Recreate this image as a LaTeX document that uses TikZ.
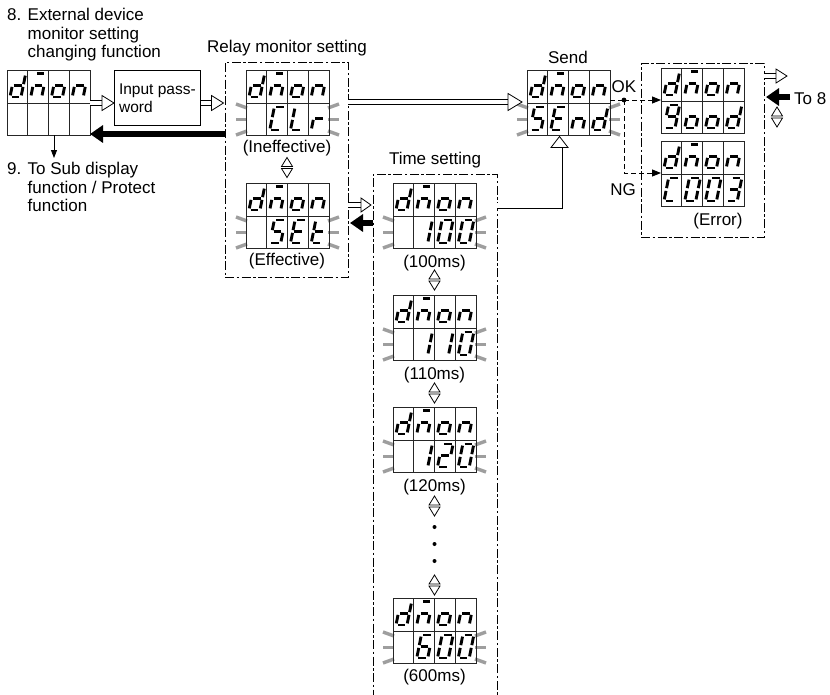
\documentclass[tikz,border=0pt]{standalone}
\usepackage{fontspec}
\setmainfont{Liberation Sans}
\usetikzlibrary{arrows.meta,calc}

\newcommand\segpt[2]{({3+11*(#1)+4.6*(1-(#2))},{4+23*(#2)})}
\def\mySega{\draw[seg] \segpt{0.16}{0} -- \segpt{0.86}{0};}
\def\mySegb{\draw[seg] \segpt{1}{0.07} -- \segpt{1}{0.44};}
\def\mySegc{\draw[seg] \segpt{1}{0.56} -- \segpt{1}{0.93};}
\def\mySegd{\draw[seg] \segpt{0.14}{1} -- \segpt{0.84}{1};}
\def\mySege{\draw[seg] \segpt{0}{0.56} -- \segpt{0}{0.93};}
\def\mySegf{\draw[seg] \segpt{0}{0.07} -- \segpt{0}{0.44};}
\def\mySegg{\draw[seg] \segpt{0.15}{0.5} -- \segpt{0.85}{0.5};}
\def\mySegm{\draw[seg] \segpt{0.12}{-0.04} -- \segpt{0.78}{-0.04};}
\def\mySegx{}

\newcommand\cellchar[3]{%
  \begin{scope}[shift={(#1,#2)}]
    \foreach \sg in #3 {\csname mySeg\sg\endcsname}
  \end{scope}}

\newcommand\glowbars{%
  \draw[glow] (1,38) -- (-10,34);
  \draw[glow] (1,49.5) -- (-10,49.5);
  \draw[glow] (1,61) -- (-10,65);
  \draw[glow] (82,38) -- (93,34);
  \draw[glow] (82,49.5) -- (93,49.5);
  \draw[glow] (82,61) -- (93,65);}

% #1 name, #2 x, #3 y (top left), #4 bottom row cells, #5 glow (1/0)
\newcommand\dispunit[5]{%
  \begin{scope}[shift={(#2,#3)}]
    \ifnum#5=1 \glowbars\fi
    \node[dframe, anchor=north west] (#1) at (0,0) {};
    \draw[dgrid] (0,33) -- (83,33);
    \foreach \ii in {1,2,3} {\draw[dgrid] ({\ii*20.75},0) -- ({\ii*20.75},65);}
    \foreach \cl [count=\kk from 0] in {{b,c,d,e,g},{c,e,g,m},{c,d,e,g},{c,e,g}} {\cellchar{\kk*20.75}{0}{\cl}}
    \foreach \cl [count=\kk from 0] in {#4} {\cellchar{\kk*20.75}{33}{\cl}}
  \end{scope}}

\newcommand\updown[2]{%
  \begin{scope}[shift={(#1,#2)}]
    \draw[tri] (-5.5,-1) -- (5.5,-1) -- (0,-10) -- cycle;
    \draw[tri] (-5.5,1) -- (5.5,1) -- (0,10) -- cycle;
  \end{scope}}

% hollow arrow to the right: #1 start, #2 tip, #3 head length, #4 head half width
\newcommand\hollowR[4]{%
  \draw[hshaft] (#1) -- ($(#2)+(-#3,0)$);
  \draw[hhead] (#2) -- ++(-#3,-#4) -- ++(0,2*#4) -- cycle;}

\begin{document}
\begin{tikzpicture}[x=1pt,y=-1pt,
  lab/.style={font=\fontsize{17}{18.5}\selectfont, inner sep=0pt},
  small/.style={font=\fontsize{15.5}{18}\selectfont},
  seg/.style={line width=2.9pt, line cap=butt},
  glow/.style={line width=3.4pt, draw=black!38},
  dframe/.style={draw=black!85, line width=0.8pt, minimum width=83pt, minimum height=65pt, inner sep=0pt, outer sep=0pt},
  dgrid/.style={draw=black!85, line width=0.8pt},
  dbox/.style={draw, line width=0.9pt, dash pattern=on 9pt off 2.5pt on 2.5pt off 2.5pt, inner sep=0pt, outer sep=0pt},
  dconn/.style={draw, line width=0.9pt, dash pattern=on 5pt off 3pt},
  tri/.style={draw, line width=0.8pt, fill=white, line join=miter},
  hshaft/.style={draw=black, line width=0.8pt, double=white, double distance=4.4pt, line join=miter},
  hhead/.style={draw=black, fill=white, line width=0.8pt, line join=miter},
  bigarrow/.style={line width=6pt, -{Triangle[length=13pt,width=17pt]}},
  thinarrow/.style={line width=0.9pt, -{Triangle[length=8pt,width=6pt]}},
  dtip/.style={-{Triangle[length=9pt,width=7pt]}}
]
\fill[white] (0,0) rectangle (830,694);
\useasboundingbox (0,0) rectangle (830,694);

% ---------- titles ----------
\node[lab, align=left, anchor=north west] (t8) at (7,8)
  {8. External device\\\phantom{8. }monitor setting\\\phantom{8. }changing function};
\node[lab, align=left, anchor=north west] (t9) at (7,162)
  {9. To Sub display\\\phantom{9. }function / Protect\\\phantom{9. }function};

% ---------- boxes ----------
\node[dbox, minimum width=123pt, minimum height=215pt, anchor=north west] (rb) at (225,62) {};
\node[dbox, minimum width=124pt, minimum height=540pt, anchor=north west] (tb) at (373,174) {};
\node[dbox, minimum width=123pt, minimum height=174pt, anchor=north west] (eb) at (641,63) {};
\node[draw, line width=0.8pt, minimum width=86pt, minimum height=55pt, anchor=north west,
      align=left, small, inner sep=0pt] (pw) at (114,70) {Input pass-\\word};

\node[lab, anchor=base] (trelay) at (287,52) {Relay monitor setting};
\node[lab, anchor=base] (tsend) at (568,63) {Send};
\node[lab, anchor=base] (ttime) at (435,164) {Time setting};

% ---------- displays ----------
\dispunit{d8}{7}{70}{{x},{x},{x},{x}}{0}
\dispunit{clr}{246}{70}{{x},{a,d,e,f},{d,e,f},{e,g}}{1}
\dispunit{set}{246}{183}{{x},{a,c,d,f,g},{a,d,e,f,g},{d,e,f,g}}{1}
\dispunit{send}{527}{70}{{a,c,d,f,g},{a,d,e,f,g},{c,e,g},{b,c,d,e,g}}{1}
\dispunit{good}{661}{68}{{a,b,c,d,f,g},{c,d,e,g},{c,d,e,g},{b,c,d,e,g}}{0}
\dispunit{err}{661}{141}{{a,d,e,f},{a,b,c,d,e,f},{a,b,c,d,e,f},{a,b,c,d,g}}{0}
\dispunit{t100}{393}{183}{{x},{b,c},{a,b,c,d,e,f},{a,b,c,d,e,f}}{1}
\dispunit{t110}{393}{295}{{x},{b,c},{b,c},{a,b,c,d,e,f}}{1}
\dispunit{t120}{393}{407}{{x},{b,c},{a,b,d,e,g},{a,b,c,d,e,f}}{1}
\dispunit{t600}{393}{598}{{x},{a,c,d,e,f,g},{a,b,c,d,e,f},{a,b,c,d,e,f}}{1}

% ---------- labels ----------
\node[lab, anchor=base] (lineff) at (287,152.5) {(Ineffective)};
\node[lab, anchor=base] (leff) at (287,265) {(Effective)};
\node[lab, anchor=base] (l100) at (434.5,267.5) {(100ms)};
\node[lab, anchor=base] (l110) at (434.5,379) {(110ms)};
\node[lab, anchor=base] (l120) at (434.5,491) {(120ms)};
\node[lab, anchor=base] (l600) at (434.5,681) {(600ms)};
\node[lab, anchor=base] (lerr) at (718,225) {(Error)};
\node[lab, anchor=base] (lok) at (624,92) {OK};
\node[lab, anchor=base] (lng) at (623,195) {NG};
\node[lab, anchor=base west] (lto8) at (794,104) {To 8};

% ---------- up/down markers and dots ----------
\updown{287}{167.5}
\updown{434.5}{280}
\updown{434.5}{393}
\updown{434.5}{506}
\updown{434.5}{585}
\updown{777}{117}
\fill (434.5,527) circle (2);
\fill (434.5,544) circle (2);
\fill (434.5,561) circle (2);

% ---------- hollow arrows ----------
\coordinate (h1s) at (d8.east |- 0,103);
\coordinate (h1t) at (pw.west |- 0,103);
\hollowR{h1s}{h1t}{12}{7.5}
\coordinate (h2s) at (pw.east |- 0,103);
\coordinate (h2t) at ($(rb.west |- 0,103)+(-1.5,0)$);
\hollowR{h2s}{h2t}{12}{7.5}
\coordinate (h3s) at (rb.east |- 0,102);
\coordinate (h3t) at ($(send.west |- 0,102)+(-5,0)$);
\hollowR{h3s}{h3t}{14}{8.5}
\coordinate (h4s) at (rb.east |- 0,205);
\coordinate (h4t) at ($(tb.west |- 0,205)+(-2,0)$);
\hollowR{h4s}{h4t}{10}{7}
\coordinate (h5s) at (eb.east |- 0,76);
\coordinate (h5t) at ($(eb.east |- 0,76)+(23,0)$);
\hollowR{h5s}{h5t}{11}{7}
\coordinate (u0) at (tb.east |- 0,205.5);
\coordinate (ut) at ($(send.south west)+(32.5,1.5)$);
\draw[hshaft] (u0) -| ($(ut)+(0,11)$);
\draw[hhead] (ut) -- ++(-8.5,11) -- ++(17,0) -- cycle;

% ---------- black arrows ----------
\draw[bigarrow] (rb.west |- 0,134) -- (d8.east |- 0,134);
\draw[bigarrow] (tb.west |- 0,223) -- ($(rb.east |- 0,223)+(2,0)$);
\coordinate (to8s) at ($(eb.east |- 0,97)+(26,0)$);
\draw[bigarrow] (to8s) -- ($(eb.east |- 0,97)+(2,0)$);
\coordinate (d8out) at ($(d8.south west)+(47,0)$);
\draw[thinarrow] (d8out) -- ++(0,23);

% ---------- OK / NG connectors ----------
\coordinate (okdot) at (624,100);
\draw[dconn] (send.east |- okdot) -- (okdot);
\draw[dconn, dtip] (okdot) -- (good.west |- okdot);
\draw[dconn, dtip] (okdot) |- (err.west |- 0,173);
\fill (okdot) circle (2.4);
\end{tikzpicture}
\end{document}
